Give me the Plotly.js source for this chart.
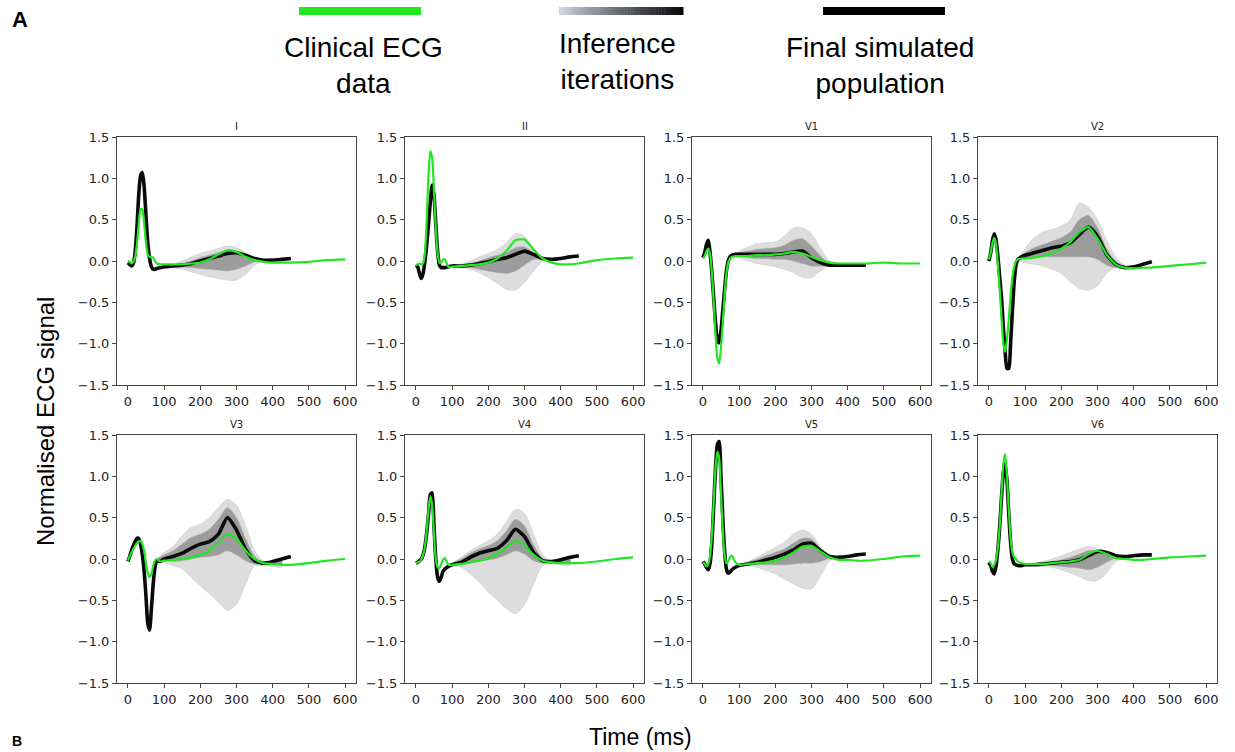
<!DOCTYPE html>
<html>
<head>
<meta charset="utf-8">
<script src="https://cdn.plot.ly/plotly-3.0.1.min.js"></script>
<style>html,body{margin:0;padding:0;background:#fff;}#chart{width:1235px;height:752px;}</style>
</head>
<body>
<div id="chart"></div>
<script>
// ---------------- DATA ----------------
const leadNames = ['I', 'II', 'V1', 'V2', 'V3', 'V4', 'V5', 'V6'];

// time grid (ms) for the clinical ECG (to 600 ms); the simulated population uses the first 33 points (to 450 ms)
const timeMs = [0,5,10,15,20,25,30,35,40,45,50,55,60,65,70,75,80,90,100,125,150,175,200,225,250,275,300,325,350,375,400,425,450,500,550,600];
// time grid (ms) for the envelopes of the inference iterations
const timeEnv = [80,100,125,150,175,200,225,250,275,300,325,350,375,400,425];

// Clinical ECG (green)
const clinical_I  = [0.0,-0.01,-0.03,-0.01,0.05,0.2,0.45,0.63,0.62,0.45,0.22,0.08,0.05,0.05,0.04,0.0,-0.03,-0.04,-0.04,-0.04,-0.04,-0.03,-0.02,0.02,0.08,0.13,0.11,0.05,0.01,-0.01,-0.02,-0.02,-0.02,-0.01,0.01,0.02];
const clinical_II = [-0.05,-0.04,-0.03,-0.04,-0.03,0.1,0.5,1.05,1.33,1.25,0.85,0.4,0.1,-0.02,-0.02,0.02,0.02,-0.07,-0.07,-0.06,-0.05,-0.04,-0.02,0.03,0.12,0.25,0.26,0.14,0.03,-0.02,-0.04,-0.04,-0.03,0.01,0.03,0.04];
const clinical_V1 = [0.03,0.06,0.12,0.15,0.08,-0.15,-0.5,-0.9,-1.18,-1.24,-1.05,-0.75,-0.42,-0.15,-0.02,0.03,0.05,0.06,0.06,0.06,0.07,0.07,0.08,0.09,0.11,0.09,0.05,0.01,-0.02,-0.03,-0.03,-0.03,-0.03,-0.02,-0.03,-0.03];
const clinical_V2 = [0.02,0.1,0.22,0.28,0.2,-0.05,-0.35,-0.7,-1.0,-1.1,-0.95,-0.7,-0.42,-0.2,-0.07,0.0,0.02,0.03,0.03,0.04,0.06,0.1,0.15,0.23,0.35,0.41,0.27,0.08,-0.04,-0.08,-0.09,-0.08,-0.08,-0.06,-0.04,-0.02];
const clinical_V3 = [-0.02,0.03,0.08,0.12,0.16,0.19,0.21,0.22,0.18,0.1,-0.05,-0.17,-0.22,-0.18,-0.08,-0.02,0.0,-0.03,-0.02,-0.01,0.0,0.02,0.05,0.1,0.2,0.3,0.25,0.1,0.0,-0.05,-0.06,-0.07,-0.07,-0.05,-0.02,0.0];
const clinical_V4 = [-0.05,-0.04,-0.03,0.0,0.05,0.15,0.35,0.6,0.76,0.65,0.3,0.0,-0.1,-0.11,-0.06,-0.01,0.01,-0.07,-0.07,-0.06,-0.04,-0.02,0.01,0.06,0.14,0.22,0.17,0.05,-0.02,-0.04,-0.05,-0.05,-0.05,-0.03,0.0,0.02];
const clinical_V5 = [-0.04,-0.06,-0.09,-0.06,0.05,0.3,0.7,1.1,1.3,1.22,0.8,0.35,0.05,-0.05,-0.03,0.02,0.04,-0.04,-0.07,-0.06,-0.05,-0.04,-0.02,0.02,0.08,0.15,0.16,0.09,0.02,-0.01,-0.01,-0.02,-0.02,0.0,0.03,0.04];
const clinical_V6 = [-0.03,-0.05,-0.1,-0.07,0.0,0.15,0.4,0.8,1.15,1.27,1.0,0.6,0.25,0.08,0.02,0.0,-0.03,-0.05,-0.06,-0.06,-0.06,-0.05,-0.04,-0.03,-0.01,0.06,0.1,0.06,0.01,0.0,-0.01,-0.01,0.0,0.02,0.03,0.04];

// Final simulated population (black), 0..450 ms
const population_I  = [-0.02,-0.04,-0.06,-0.03,0.1,0.4,0.8,1.03,1.07,0.9,0.55,0.22,0.03,-0.07,-0.1,-0.1,-0.09,-0.08,-0.07,-0.06,-0.05,-0.03,0.0,0.03,0.06,0.09,0.1,0.07,0.03,0.01,0.01,0.02,0.03];
const population_II = [-0.05,-0.07,-0.15,-0.21,-0.15,0.0,0.2,0.45,0.72,0.92,0.8,0.45,0.12,-0.05,-0.08,-0.08,-0.08,-0.07,-0.06,-0.06,-0.05,-0.03,-0.01,0.02,0.04,0.08,0.12,0.08,0.03,0.02,0.03,0.05,0.06];
const population_V1 = [0.04,0.1,0.2,0.25,0.1,-0.15,-0.45,-0.75,-0.95,-0.99,-0.85,-0.6,-0.35,-0.12,0.0,0.05,0.07,0.08,0.08,0.08,0.08,0.08,0.08,0.09,0.11,0.12,0.04,-0.02,-0.05,-0.05,-0.05,-0.05,-0.05];
const population_V2 = [0.0,0.1,0.25,0.33,0.25,0.05,-0.2,-0.45,-0.8,-1.1,-1.3,-1.3,-1.0,-0.6,-0.25,-0.05,0.02,0.05,0.07,0.1,0.13,0.16,0.18,0.22,0.32,0.41,0.3,0.08,-0.04,-0.08,-0.07,-0.04,-0.01];
const population_V3 = [-0.03,0.03,0.1,0.16,0.21,0.25,0.25,0.18,0.05,-0.15,-0.45,-0.78,-0.86,-0.6,-0.3,-0.1,-0.02,-0.03,0.0,0.03,0.07,0.13,0.18,0.21,0.3,0.5,0.35,0.12,-0.02,-0.05,-0.03,0.0,0.03];
const population_V4 = [-0.05,-0.04,-0.02,0.0,0.05,0.15,0.32,0.55,0.78,0.8,0.4,0.0,-0.22,-0.27,-0.22,-0.15,-0.12,-0.09,-0.07,-0.04,0.02,0.07,0.1,0.13,0.22,0.36,0.27,0.08,-0.02,-0.03,-0.01,0.02,0.04];
const population_V5 = [-0.03,-0.06,-0.1,-0.13,-0.05,0.2,0.65,1.1,1.38,1.42,1.0,0.5,0.1,-0.12,-0.17,-0.16,-0.13,-0.1,-0.08,-0.06,-0.04,-0.01,0.02,0.06,0.11,0.18,0.19,0.1,0.03,0.02,0.03,0.05,0.06];
const population_V6 = [-0.04,-0.08,-0.15,-0.18,-0.08,0.12,0.4,0.75,1.05,1.15,0.95,0.55,0.2,0.0,-0.06,-0.07,-0.08,-0.08,-0.07,-0.07,-0.06,-0.05,-0.04,-0.03,-0.01,0.04,0.09,0.08,0.04,0.03,0.04,0.05,0.05];

// Inference iterations: outer spread (upper / lower) on timeEnv
const iterHigh_I  = [-0.09,-0.07,-0.04,0.0,0.05,0.09,0.12,0.15,0.18,0.16,0.1,0.04,0.01,0.01,0.02];
const iterLow_I   = [-0.09,-0.07,-0.08,-0.1,-0.13,-0.16,-0.19,-0.21,-0.23,-0.23,-0.16,-0.05,0.0,0.01,0.02];
const iterHigh_II = [-0.08,-0.06,-0.04,0.0,0.05,0.09,0.14,0.22,0.33,0.3,0.15,0.04,0.02,0.03,0.05];
const iterLow_II  = [-0.08,-0.07,-0.08,-0.1,-0.14,-0.2,-0.27,-0.34,-0.35,-0.26,-0.12,-0.01,0.01,0.03,0.05];
const iterHigh_V1 = [0.07,0.12,0.17,0.21,0.22,0.23,0.3,0.4,0.4,0.33,0.15,0.0,-0.04,-0.05,-0.05];
const iterLow_V1  = [0.07,0.04,0.0,-0.03,-0.05,-0.07,-0.1,-0.14,-0.2,-0.2,-0.12,-0.05,-0.05,-0.05,-0.05];
const iterHigh_V2 = [0.02,0.15,0.28,0.35,0.38,0.42,0.5,0.7,0.65,0.5,0.25,0.05,-0.05,-0.06,-0.04];
const iterLow_V2  = [0.0,-0.02,-0.04,-0.06,-0.1,-0.15,-0.25,-0.33,-0.35,-0.3,-0.15,-0.08,-0.09,-0.08,-0.05];
const iterHigh_V3 = [0.0,0.08,0.15,0.28,0.38,0.42,0.5,0.62,0.72,0.65,0.4,0.1,-0.03,-0.04,-0.03];
const iterLow_V3  = [-0.02,-0.04,-0.08,-0.12,-0.22,-0.32,-0.42,-0.52,-0.62,-0.55,-0.3,-0.08,-0.08,-0.09,-0.1];
const iterHigh_V4 = [-0.1,-0.05,0.02,0.1,0.16,0.22,0.3,0.45,0.6,0.55,0.3,0.05,-0.02,0.0,0.02];
const iterLow_V4  = [-0.12,-0.08,-0.1,-0.18,-0.28,-0.4,-0.5,-0.6,-0.66,-0.55,-0.3,-0.08,-0.06,-0.07,-0.08];
const iterHigh_V5 = [-0.13,-0.08,-0.03,0.02,0.08,0.14,0.2,0.3,0.35,0.3,0.15,0.04,0.02,0.03,0.05];
const iterLow_V5  = [-0.13,-0.09,-0.08,-0.1,-0.14,-0.18,-0.24,-0.3,-0.35,-0.36,-0.2,-0.02,0.01,0.02,0.04];
const iterHigh_V6 = [-0.08,-0.07,-0.06,-0.03,0.0,0.04,0.08,0.12,0.15,0.12,0.06,0.03,0.03,0.04,0.05];
const iterLow_V6  = [-0.08,-0.07,-0.08,-0.09,-0.1,-0.13,-0.17,-0.21,-0.26,-0.26,-0.17,-0.03,0.01,0.03,0.04];

// Inference iterations: dense core (upper / lower) on timeEnv
const coreHigh_I  = [-0.09,-0.07,-0.05,-0.03,0.0,0.04,0.07,0.1,0.13,0.12,0.07,0.03,0.01,0.01,0.02];
const coreLow_I   = [-0.09,-0.07,-0.07,-0.07,-0.08,-0.09,-0.1,-0.11,-0.12,-0.1,-0.06,-0.01,0.0,0.01,0.02];
const coreHigh_II = [-0.08,-0.06,-0.05,-0.03,0.0,0.04,0.07,0.1,0.16,0.17,0.1,0.03,0.02,0.03,0.05];
const coreLow_II  = [-0.08,-0.06,-0.07,-0.08,-0.1,-0.12,-0.14,-0.15,-0.12,-0.05,0.02,0.02,0.02,0.03,0.05];
const coreHigh_V1 = [0.07,0.1,0.12,0.14,0.15,0.16,0.19,0.25,0.27,0.18,0.06,-0.03,-0.05,-0.05,-0.05];
const coreLow_V1  = [0.07,0.06,0.04,0.03,0.03,0.02,0.02,0.0,-0.03,-0.06,-0.06,-0.05,-0.05,-0.05,-0.05];
const coreHigh_V2 = [0.02,0.1,0.16,0.2,0.24,0.28,0.35,0.5,0.55,0.4,0.15,0.0,-0.06,-0.06,-0.04];
const coreLow_V2  = [0.01,0.03,0.04,0.05,0.05,0.05,0.05,0.05,0.05,0.02,-0.05,-0.08,-0.09,-0.08,-0.05];
const coreHigh_V3 = [0.0,0.05,0.1,0.18,0.26,0.3,0.36,0.48,0.62,0.5,0.25,0.03,-0.04,-0.04,-0.02];
const coreLow_V3  = [-0.02,-0.02,-0.03,-0.02,0.0,0.02,0.03,0.05,0.1,0.05,-0.02,-0.06,-0.07,-0.07,-0.06];
const coreHigh_V4 = [-0.1,-0.05,0.0,0.07,0.12,0.16,0.22,0.34,0.48,0.4,0.17,0.01,-0.03,-0.01,0.02];
const coreLow_V4  = [-0.12,-0.08,-0.07,-0.05,-0.03,-0.01,0.01,0.05,0.1,0.06,-0.02,-0.05,-0.05,-0.05,-0.05];
const coreHigh_V5 = [-0.13,-0.08,-0.04,0.0,0.04,0.08,0.12,0.19,0.25,0.24,0.12,0.03,0.02,0.03,0.05];
const coreLow_V5  = [-0.13,-0.08,-0.07,-0.07,-0.07,-0.07,-0.07,-0.06,-0.05,-0.05,-0.03,0.01,0.01,0.02,0.04];
const coreHigh_V6 = [-0.08,-0.07,-0.06,-0.05,-0.03,-0.01,0.02,0.06,0.1,0.1,0.07,0.03,0.03,0.04,0.05];
const coreLow_V6  = [-0.08,-0.07,-0.07,-0.07,-0.08,-0.09,-0.1,-0.11,-0.13,-0.1,-0.04,0.01,0.02,0.03,0.04];

const xTicks = [0, 100, 200, 300, 400, 500, 600];
const yTicks = [-1.5, -1.0, -0.5, 0.0, 0.5, 1.0, 1.5];

const legendLabels = ['Clinical ECG<br>data', 'Inference<br>iterations', 'Final simulated<br>population'];

// ---------------- BUILD ----------------
const clinicalSets   = [clinical_I, clinical_II, clinical_V1, clinical_V2, clinical_V3, clinical_V4, clinical_V5, clinical_V6];
const populationSets = [population_I, population_II, population_V1, population_V2, population_V3, population_V4, population_V5, population_V6];
const iterHighSets   = [iterHigh_I, iterHigh_II, iterHigh_V1, iterHigh_V2, iterHigh_V3, iterHigh_V4, iterHigh_V5, iterHigh_V6];
const iterLowSets    = [iterLow_I, iterLow_II, iterLow_V1, iterLow_V2, iterLow_V3, iterLow_V4, iterLow_V5, iterLow_V6];
const coreHighSets   = [coreHigh_I, coreHigh_II, coreHigh_V1, coreHigh_V2, coreHigh_V3, coreHigh_V4, coreHigh_V5, coreHigh_V6];
const coreLowSets    = [coreLow_I, coreLow_II, coreLow_V1, coreLow_V2, coreLow_V3, coreLow_V4, coreLow_V5, coreLow_V6];

const W = 1235, H = 752;
const px = v => v / W;
const py = v => 1 - v / H;

const colLeft = [117, 405, 692, 978];
const rowTop = [137, 435];
const panelW = 239, panelH = 248;

const GREEN = '#22e622';
const traces = [];
const layout = {
  width: W, height: H,
  margin: {l: 0, r: 0, t: 0, b: 0},
  paper_bgcolor: '#ffffff', plot_bgcolor: '#ffffff',
  showlegend: false,
  annotations: [], shapes: []
};

const axisFont = {family: 'DejaVu Sans, sans-serif', size: 13, color: '#222'};

leadNames.forEach((name, i) => {
  const r = Math.floor(i / 4), c = i % 4;
  const k = i === 0 ? '' : String(i + 1);
  const xa = 'x' + k, ya = 'y' + k;
  const L = colLeft[c], T = rowTop[r];

  layout['xaxis' + k] = {
    domain: [px(L), px(L + panelW)], anchor: ya,
    range: [-30, 630], tickvals: xTicks, ticktext: xTicks.map(String),
    showline: true, mirror: true, linecolor: '#444', linewidth: 1,
    ticks: 'outside', ticklen: 4, tickcolor: '#444', showgrid: false, zeroline: false,
    tickfont: axisFont, fixedrange: true
  };
  layout['yaxis' + k] = {
    domain: [py(T + panelH), py(T)], anchor: xa,
    range: [-1.5, 1.5], tickvals: yTicks, ticktext: yTicks.map(v => (v < 0 ? '\u2212' : '') + Math.abs(v).toFixed(1)),
    showline: true, mirror: true, linecolor: '#444', linewidth: 1,
    ticks: 'outside', ticklen: 4, tickcolor: '#444', showgrid: false, zeroline: false,
    tickfont: axisFont, fixedrange: true
  };

  const tPop = timeMs.slice(0, populationSets[i].length);
  const envX = timeEnv.concat(timeEnv.slice().reverse());

  traces.push({
    x: envX, y: iterHighSets[i].concat(iterLowSets[i].slice().reverse()),
    xaxis: xa, yaxis: ya, type: 'scatter', mode: 'lines', fill: 'toself',
    fillcolor: '#dddddd', line: {color: '#d0d0d0', width: 0.8, shape: 'spline', smoothing: 0.8},
    hoverinfo: 'skip'
  });
  traces.push({
    x: envX, y: coreHighSets[i].concat(coreLowSets[i].slice().reverse()),
    xaxis: xa, yaxis: ya, type: 'scatter', mode: 'lines', fill: 'toself',
    fillcolor: '#9c9c9c', line: {color: '#a4a4a4', width: 0.5, shape: 'spline', smoothing: 0.8},
    hoverinfo: 'skip'
  });
  traces.push({
    x: tPop, y: populationSets[i], xaxis: xa, yaxis: ya, type: 'scatter', mode: 'lines',
    line: {color: '#0a0a0a', width: 3.6, shape: 'spline', smoothing: 0.6}
  });
  traces.push({
    x: timeMs, y: clinicalSets[i], xaxis: xa, yaxis: ya, type: 'scatter', mode: 'lines',
    line: {color: GREEN, width: 2.2, shape: 'spline', smoothing: 0.6}
  });

  layout.annotations.push({
    text: name, xref: 'paper', yref: 'paper', x: px(L + panelW / 2), y: py(T - 3),
    xanchor: 'center', yanchor: 'bottom', showarrow: false,
    font: {family: 'DejaVu Sans, sans-serif', size: 10, color: '#222'}
  });
});

// Header legend: bars
const barY0 = py(15), barY1 = py(7);
layout.shapes.push({type: 'rect', xref: 'paper', yref: 'paper', x0: px(299), x1: px(421), y0: barY0, y1: barY1, fillcolor: GREEN, line: {width: 0}});
layout.shapes.push({type: 'rect', xref: 'paper', yref: 'paper', x0: px(823), x1: px(945), y0: barY0, y1: barY1, fillcolor: '#000000', line: {width: 0}});
const gradSteps = 40, g0 = 559, g1 = 683;
const c0 = [206, 214, 228], c1 = [10, 10, 14];
for (let s = 0; s < gradSteps; s++) {
  const f = s / (gradSteps - 1);
  const e = Math.pow(f, 0.9);
  const col = c0.map((v, j) => Math.round(v + (c1[j] - v) * e));
  layout.shapes.push({
    type: 'rect', xref: 'paper', yref: 'paper',
    x0: px(g0 + (g1 - g0) * s / gradSteps), x1: px(g0 + (g1 - g0) * (s + 1) / gradSteps + 0.5),
    y0: barY0, y1: barY1, fillcolor: 'rgb(' + col.join(',') + ')', line: {width: 0}
  });
}

// Header legend: labels
const legendCenters = [363, 617, 880];
const legendY = [66, 62, 66];
legendLabels.forEach((t, i) => {
  layout.annotations.push({
    text: t, xref: 'paper', yref: 'paper', x: px(legendCenters[i]), y: py(legendY[i]),
    xanchor: 'center', yanchor: 'middle', showarrow: false, align: 'center',
    font: {family: 'Liberation Sans, Arial, sans-serif', size: 28, color: '#000'}
  });
});

// Panel letters
layout.annotations.push({text: '<b>A</b>', xref: 'paper', yref: 'paper', x: px(10), y: py(20), xanchor: 'left', yanchor: 'middle', showarrow: false, font: {family: 'Liberation Sans, Arial, sans-serif', size: 22, color: '#000'}});
layout.annotations.push({text: '<b>B</b>', xref: 'paper', yref: 'paper', x: px(10), y: py(751), xanchor: 'left', yanchor: 'bottom', showarrow: false, font: {family: 'Liberation Sans, Arial, sans-serif', size: 14, color: '#000'}});

// Shared axis titles
layout.annotations.push({text: 'Normalised ECG signal', xref: 'paper', yref: 'paper', x: px(45), y: py(422), xanchor: 'center', yanchor: 'middle', textangle: -90, showarrow: false, font: {family: 'Liberation Sans, Arial, sans-serif', size: 24, color: '#000'}});
layout.annotations.push({text: 'Time (ms)', xref: 'paper', yref: 'paper', x: px(640), y: py(737), xanchor: 'center', yanchor: 'middle', showarrow: false, font: {family: 'Liberation Sans, Arial, sans-serif', size: 23, color: '#000'}});

Plotly.newPlot('chart', traces, layout, {displayModeBar: false, staticPlot: true});
</script>
</body>
</html>
